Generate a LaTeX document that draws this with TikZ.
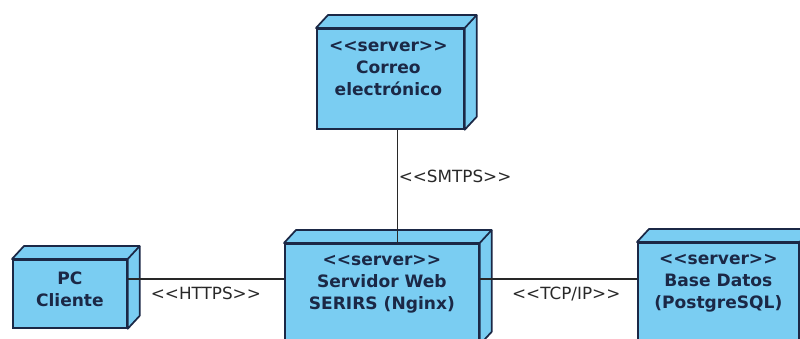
\documentclass[tikz,border=0pt]{standalone}
\usepackage{fontspec}
\setmainfont{DejaVu Sans}[Ligatures=TeXOff]
\usetikzlibrary{calc}
\usepackage{xcolor}

\definecolor{relleno}{RGB}{122,205,242}
\definecolor{borde}{RGB}{27,40,70}
\definecolor{linea}{RGB}{40,40,40}

\tikzset{
  caja/.style={draw=borde, fill=relleno, line width=1.3pt, anchor=north west, inner sep=0pt},
  cara/.style={draw=borde, fill=relleno, line width=1.3pt, line join=round},
  texto/.style={align=center, text=borde, font=\fontsize{12.8}{16.5}\selectfont\bfseries, inner sep=0pt},
  conector/.style={draw=linea, line width=1pt},
  etiqueta/.style={text=linea, font=\fontsize{12.6}{16.5}\selectfont, inner sep=0pt}
}

% caras de profundidad del nodo
\newcommand{\profundidad}[1]{%
  \filldraw[cara] (#1.north west) -- ++(12,-13) -- ($(#1.north east)+(12,-13)$)
    -- ($(#1.south east)+(12,-13)$) -- (#1.south east) -- (#1.north east) -- cycle;
  \draw[cara] (#1.north east) -- ++(12,-13);
}

\begin{document}
\begin{tikzpicture}[x=0.75pt, y=-0.75pt]
      \def\px{0.75pt}
      \useasboundingbox (0,0) rectangle (800,339);
      \clip (0,0) rectangle (800,339);

      % Nodos
      \node[caja, minimum width=147*\px, minimum height=100*\px] (correo) at (316,28) {};
      \node[caja, minimum width=194*\px, minimum height=100*\px] (servidor) at (284,243) {};
      \node[caja, minimum width=114*\px, minimum height=68*\px] (pc) at (12,259) {};
      \node[caja, minimum width=161*\px, minimum height=100*\px] (base) at (637,242) {};

      \profundidad{correo}
      \profundidad{servidor}
      \profundidad{pc}
      \profundidad{base}

      % Textos
      \node[texto] (correo-t) at ($(correo.north)+(-2,41)$) {<<server>>\\Correo\\electrónico};
      \node[texto] (servidor-t) at ($(servidor.north)+(0,41)$) {<<server>>\\Servidor Web\\SERIRS (Nginx)};
      \node[texto] (pc-t) at ($(pc.north)+(0,30)$) {PC\\Cliente};
      \node[texto] (base-t) at ($(base.north)+(0,41)$) {<<server>>\\Base Datos\\(PostgreSQL)};

      % Conexiones
      \draw[conector] (correo.south) ++(7,0) coordinate (smtp)
        -- (smtp |- servidor.north) node[etiqueta, pos=0.41, right=0.6pt] (smtps) {<<SMTPS>>};
      \draw[conector] (pc.north east) ++(0,20) coordinate (http)
        -- (http -| servidor.west) node[etiqueta, midway, below=5.5pt] (https) {<<HTTPS>>};
      \draw[conector] (servidor.north east) ++(0,36) coordinate (tcp)
        -- (tcp -| base.west) node[etiqueta, pos=0.55, below=5.5pt] (tcpip) {<<TCP/IP>>};
    \end{tikzpicture}
\end{document}
